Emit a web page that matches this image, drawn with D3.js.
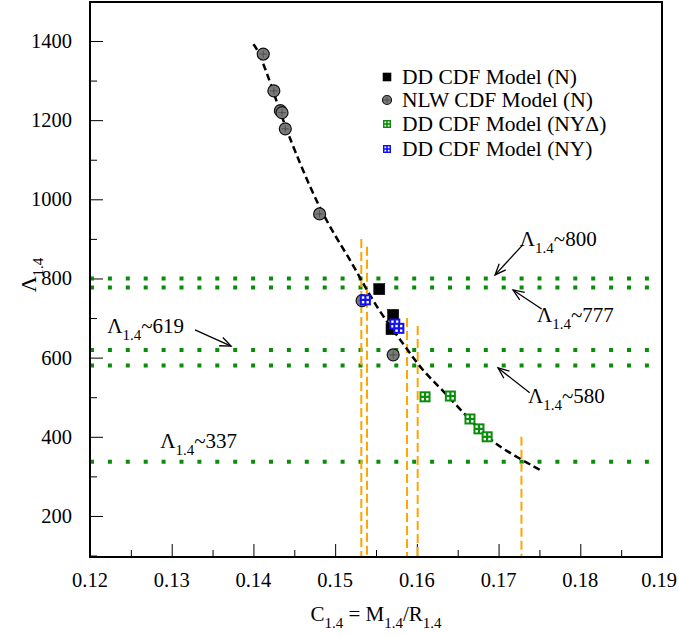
<!DOCTYPE html>
<html><head><meta charset="utf-8">
<script src="https://cdn.jsdelivr.net/npm/d3@7"></script>
<style>
body{margin:0;background:#fff}
svg text{font-family:"Liberation Serif","Tinos","Times New Roman","Nimbus Roman","DejaVu Serif",serif;fill:#000}
</style>
</head><body>
<svg id="chart" width="678" height="637" font-family="Liberation Serif, Times New Roman, DejaVu Serif, serif"></svg>
<script>
// ---- data ----
const xTickValues = [0.12, 0.13, 0.14, 0.15, 0.16, 0.17, 0.18, 0.19];
const yTickValues = [200, 400, 600, 800, 1000, 1200, 1400];

// DD CDF Model (N)
const ddN_C = [0.1554, 0.1571, 0.1569];
const ddN_L = [773, 708, 672];
// NLW CDF Model (N)
const nlw_C = [0.1412, 0.1425, 0.1433, 0.1435, 0.1439, 0.1481, 0.1533, 0.1571];
const nlw_L = [1367, 1274, 1224, 1219, 1178, 963, 744, 607];
// DD CDF Model (NYΔ)
const ddNYD_C = [0.1610, 0.1641, 0.1665, 0.1676, 0.1686];
const ddNYD_L = [501, 503, 445, 420, 400];
// DD CDF Model (NY)
const ddNY_C = [0.1537, 0.1573, 0.1578];
const ddNY_L = [746, 685, 674];

// fitted relation Λ(C), dashed
const fit_C = [0.1400, 0.1407, 0.1424, 0.1439, 0.1482, 0.1518, 0.1537, 0.1559, 0.1586, 0.1606, 0.1632, 0.1661, 0.1681, 0.1702, 0.1751];
const fit_L = [1392, 1372, 1276, 1180, 965, 850, 776, 702, 628, 569, 517, 451, 410, 372, 316];

// horizontal reference levels (green dotted)
const levels = [800, 777, 619, 580, 337];

// vertical compactness bounds (orange dashed): x and upper end
const bound_C = [0.1532, 0.1539, 0.1588, 0.1601, 0.1728];
const bound_L = [900, 880, 700, 680, 400];

// level annotations: label value, text anchor (C, Λ), optional arrow
const noteVal   = ["800", "777", "580", "619", "337"];
const noteC     = [0.1726, 0.1747, 0.1736, 0.1221, 0.1286];
const noteL     = [882, 690, 485, 662, 372];
const arrowFromC = [0.17296, 0.17528, 0.17381, 0.13285, null];
const arrowFromL = [885, 723, 511, 670, null];
const arrowToC   = [0.16957, 0.17177, 0.16993, 0.13726, null];
const arrowToL   = [809, 771, 574, 629, null];

const legendLabels = ["DD CDF Model (N)", "NLW CDF Model (N)", "DD CDF Model (NY\u0394)", "DD CDF Model (NY)"];

// ---- layout ----
const svg = d3.select("#chart");
const W = 678;
const pL = 90, pR = 662, pT = 2, pB = 557;
const x = d3.scaleLinear().domain([0.12, 0.19]).range([pL, pR]);
const y = d3.scaleLinear().domain([96.3, 1498.5]).range([pB, pT]);

const GREEN = "#0b8c0b", BLUE = "#1010f0", ORANGE = "#ffa500";
const SERIF = "Liberation Serif, Tinos, Times New Roman, DejaVu Serif, serif";

// axes (ticks pointing into the plot)
const xMinor = d3.range(0.125, 0.19, 0.01);
const yMinor = d3.range(100, 1500, 200);
svg.append("g").attr("transform", `translate(0,${pB})`)
  .call(d3.axisTop(x).tickValues(xTickValues).tickSize(13).tickFormat(""))
  .call(g => g.select(".domain").remove());
svg.append("g").attr("transform", `translate(0,${pB})`)
  .call(d3.axisTop(x).tickValues(xMinor).tickSize(7).tickFormat(""))
  .call(g => g.select(".domain").remove());
svg.append("g").attr("transform", `translate(${pL},0)`)
  .call(d3.axisRight(y).tickValues(yTickValues).tickSize(13).tickFormat(""))
  .call(g => g.select(".domain").remove());
svg.append("g").attr("transform", `translate(${pL},0)`)
  .call(d3.axisRight(y).tickValues(yMinor).tickSize(7).tickFormat(""))
  .call(g => g.select(".domain").remove());
svg.selectAll(".tick line").attr("stroke", "#000").attr("stroke-width", 1);

// tick labels (the rightmost one is kept inside the canvas)
const xLab = svg.append("g").attr("font-family", SERIF).selectAll("text").data(xTickValues).join("text")
  .attr("x", d => x(d)).attr("y", pB + 30)
  .attr("text-anchor", "middle").attr("font-size", 20.5)
  .text(d => d.toFixed(2));
xLab.each(function() {
  const b = this.getBBox();
  if (b.x + b.width > W - 1) d3.select(this).attr("x", +this.getAttribute("x") - (b.x + b.width - (W - 1)));
});
svg.append("g").attr("font-family", SERIF).selectAll("text").data(yTickValues).join("text")
  .attr("x", pL - 18).attr("y", d => y(d) + 7)
  .attr("text-anchor", "end").attr("font-size", 20.5)
  .text(d => d);

// subscripted label helper
function subLabel(sel, parts, size, subSize) {
  sel.attr("font-family", SERIF);
  parts.forEach(p => {
    const t = sel.append("tspan").attr("font-size", p.sub ? subSize : size).text(p.t);
    if (p.sub) t.attr("dy", 7);
    else if (p.after) t.attr("dy", -7);
  });
}

// axis titles
const xt = svg.append("text").attr("x", 376).attr("y", 621).attr("text-anchor", "middle");
subLabel(xt, [{t:"C"},{t:"1.4",sub:true},{t:" = M",after:true},{t:"1.4",sub:true},{t:"/R",after:true},{t:"1.4",sub:true}], 21, 15);
const yt = svg.append("text").attr("transform", "translate(36,275) rotate(-90)").attr("text-anchor", "middle");
subLabel(yt, [{t:"\u039B"},{t:"1.4",sub:true}], 22, 15);

// clip region
svg.append("clipPath").attr("id", "plotClip").append("rect")
  .attr("x", pL).attr("y", pT).attr("width", pR - pL).attr("height", pB - pT);
const plot = svg.append("g").attr("clip-path", "url(#plotClip)");

// green dotted reference levels
plot.append("g").selectAll("line").data(levels).join("line")
  .attr("x1", pL).attr("x2", pR)
  .attr("y1", d => y(d)).attr("y2", d => y(d))
  .attr("stroke", GREEN).attr("stroke-width", 4)
  .attr("stroke-dasharray", "4,13.9");

// orange dashed bounds
plot.append("g").selectAll("line").data(bound_C).join("line")
  .attr("x1", d => x(d)).attr("x2", d => x(d))
  .attr("y1", (d, i) => y(bound_L[i])).attr("y2", pB)
  .attr("stroke", ORANGE).attr("stroke-width", 2)
  .attr("stroke-dasharray", "9,4");

// fit curve
const fitPts = fit_C.map((c, i) => [c, fit_L[i]]);
plot.append("path")
  .attr("d", d3.line().x(d => x(d[0])).y(d => y(d[1])).curve(d3.curveBasis)(fitPts))
  .attr("fill", "none").attr("stroke", "#000").attr("stroke-width", 2.5)
  .attr("stroke-dasharray", "7,4");

// markers
function sq(g, cx, cy, s, col) {
  g.append("rect").attr("x", cx - s/2).attr("y", cy - s/2).attr("width", s).attr("height", s)
    .attr("fill", col).attr("stroke", "#000").attr("stroke-width", 0.6);
}
function circ(g, cx, cy, r) {
  g.append("circle").attr("cx", cx).attr("cy", cy).attr("r", r)
    .attr("fill", "#7a7a7a").attr("stroke", "#111").attr("stroke-width", 1.2);
  g.append("path").attr("d", `M${cx-r*0.6},${cy}H${cx+r*0.6}M${cx},${cy-r*0.6}V${cy+r*0.6}`)
    .attr("stroke", "#444").attr("stroke-width", 0.8);
}
function win(g, cx, cy, s, col) {
  g.append("rect").attr("x", cx - s/2).attr("y", cy - s/2).attr("width", s).attr("height", s)
    .attr("fill", col);
  const w = s * 0.22, o = s * 0.1;
  [[-1,-1],[1,-1],[-1,1],[1,1]].forEach(([a,b]) => {
    g.append("rect")
      .attr("x", cx + (a < 0 ? -o - w : o)).attr("y", cy + (b < 0 ? -o - w : o))
      .attr("width", w).attr("height", w).attr("fill", "#fff");
  });
}

const gm = svg.append("g");
ddN_C.forEach((c, i) => sq(gm, x(c), y(ddN_L[i]), 11, "#000"));
nlw_C.forEach((c, i) => circ(gm, x(c), y(nlw_L[i]), 6));
ddNYD_C.forEach((c, i) => win(gm, x(c), y(ddNYD_L[i]), 11, GREEN));
ddNY_C.forEach((c, i) => win(gm, x(c), y(ddNY_L[i]), 11, BLUE));

// legend
const lg = svg.append("g");
const ly = [77, 100, 124, 149];
sq(lg, 387, ly[0], 8, "#000");
circ(lg, 387, ly[1], 4.5);
win(lg, 387, ly[2], 8, GREEN);
win(lg, 387, ly[3], 8, BLUE);
lg.append("g").attr("font-family", SERIF).selectAll("text").data(legendLabels).join("text")
  .attr("x", 402).attr("y", (d, i) => ly[i] + 7)
  .attr("font-size", 21.5).text(d => d);

// arrowhead
svg.append("defs").append("marker").attr("id", "ah")
  .attr("viewBox", "-12 -6 14 12").attr("refX", 0).attr("refY", 0)
  .attr("markerWidth", 14).attr("markerHeight", 12).attr("markerUnits", "userSpaceOnUse")
  .attr("orient", "auto")
  .append("path").attr("d", "M-11,-4.5L0,0L-11,4.5").attr("fill", "none")
  .attr("stroke", "#000").attr("stroke-width", 1.3);

// annotations
noteVal.forEach((v, i) => {
  const t = svg.append("text").attr("x", x(noteC[i])).attr("y", y(noteL[i]));
  subLabel(t, [{t:"\u039B"},{t:"1.4",sub:true},{t:"~" + v,after:true}], 21, 15);
  if (arrowFromC[i] !== null) {
    svg.append("line")
      .attr("x1", x(arrowFromC[i])).attr("y1", y(arrowFromL[i]))
      .attr("x2", x(arrowToC[i])).attr("y2", y(arrowToL[i]))
      .attr("stroke", "#000").attr("stroke-width", 1.3)
      .attr("marker-end", "url(#ah)");
  }
});

// frame
svg.append("rect").attr("x", pL).attr("y", pT).attr("width", pR - pL).attr("height", pB - pT)
  .attr("fill", "none").attr("stroke", "#000").attr("stroke-width", 2);
</script>
</body></html>
